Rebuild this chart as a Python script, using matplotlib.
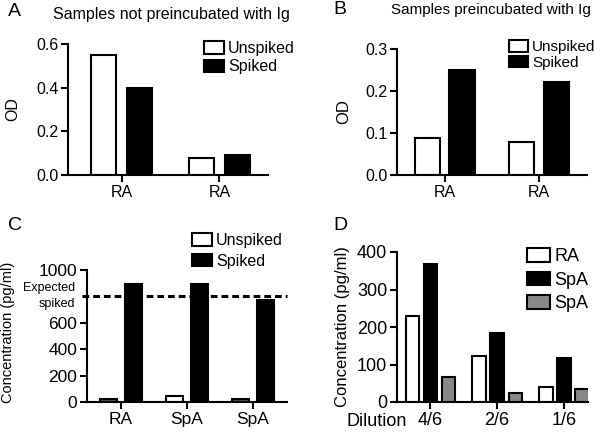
#!/usr/bin/env python3

import matplotlib
matplotlib.use('Agg')
import matplotlib.pyplot as plt
from matplotlib.patches import Patch

plt.rcParams['font.family'] = ['Liberation Sans', 'DejaVu Sans']

# panel A: samples not preincubated with Ig
a_labels = ['RA', 'RA']
a_unspiked = [0.55, 0.08]
a_spiked = [0.40, 0.09]

# panel B: samples preincubated with Ig
b_labels = ['RA', 'RA']
b_unspiked = [0.087, 0.079]
b_spiked = [0.250, 0.222]

# panel C: concentration
c_labels = ['RA', 'SpA', 'SpA']
c_unspiked = [22, 42, 22]
c_spiked = [897, 892, 771]
c_expected = 800

# panel D: dilution series
d_labels = ['4/6', '2/6', '1/6']
d_series = ['RA', 'SpA', 'SpA']
d_ra = [230, 124, 39]
d_spa1 = [368, 184, 118]
d_spa2 = [67, 25, 34]

LW = 1.5
W, H = 600, 434


def box(l, r, t, b):
  return [l / W, 1 - b / H, (r - l) / W, (b - t) / H]


def style(ax, fs=12):
  for s in ['top', 'right']:
    ax.spines[s].set_visible(False)
  for s in ['left', 'bottom']:
    ax.spines[s].set_linewidth(LW)
  ax.tick_params(direction='out', length=5, width=LW, labelsize=fs, pad=2)


def legend(ax, labels, colors, x, y, fs, spacing):
  handles = [Patch(facecolor=c, edgecolor='black', linewidth=LW) for c in colors]
  ax.legend(handles, labels, loc='upper left', bbox_to_anchor=(x / W, 1 - y / H),
            bbox_transform=ax.figure.transFigure, frameon=False, fontsize=fs,
            borderpad=0, borderaxespad=0, handlelength=1.25, handleheight=0.8,
            handletextpad=0.25, labelspacing=spacing)


fig = plt.figure(figsize=(6, 4.34), dpi=100)

# A
ax = fig.add_axes(box(68, 268, 44, 175))
x = range(len(a_labels))
ax.bar([i - 0.184 for i in x], a_unspiked, 0.255, color='white', edgecolor='black', linewidth=LW)
ax.bar([i + 0.184 for i in x], a_spiked, 0.255, color='black', edgecolor='black', linewidth=LW)
ax.set_xlim(-0.546, 1.495)
ax.set_ylim(0, 0.6)
ax.set_yticks([0, 0.2, 0.4, 0.6])
ax.set_yticklabels(['0.0', '0.2', '0.4', '0.6'])
ax.set_xticks(list(x))
ax.set_xticklabels(a_labels)
ax.set_ylabel('OD', fontsize=11.5)
ax.yaxis.set_label_coords(-0.24, 0.5)
style(ax, 11.5)
legend(ax, ['Unspiked', 'Spiked'], ['white', 'black'], 204, 41, 11.5, 0.2)

# B
ax = fig.add_axes(box(397, 587, 49, 175))
x = range(len(b_labels))
ax.bar([i - 0.185 for i in x], b_unspiked, 0.265, color='white', edgecolor='black', linewidth=LW)
ax.bar([i + 0.185 for i in x], b_spiked, 0.265, color='black', edgecolor='black', linewidth=LW)
ax.set_xlim(-0.503, 1.508)
ax.set_ylim(0, 0.3)
ax.set_yticks([0, 0.1, 0.2, 0.3])
ax.set_yticklabels(['0.0', '0.1', '0.2', '0.3'])
ax.set_xticks(list(x))
ax.set_xticklabels(b_labels)
ax.set_ylabel('OD', fontsize=12)
ax.yaxis.set_label_coords(-0.24, 0.5)
style(ax, 11.5)
legend(ax, ['Unspiked', 'Spiked'], ['white', 'black'], 509, 40, 11, 0.1)

# C
ax = fig.add_axes(box(87, 287, 270, 402))
x = range(len(c_labels))
c_fill = ['#555555', 'white', '#555555']
ax.bar([i - 0.186 for i in x], c_unspiked, 0.265, color=c_fill, edgecolor='black', linewidth=LW)
ax.bar([i + 0.186 for i in x], c_spiked, 0.265, color='black', edgecolor='black', linewidth=LW)
ax.hlines(c_expected, -0.025, 1, transform=ax.get_yaxis_transform(), color='black',
          linestyle=(0, (2.2, 1.3)), linewidth=2.2, clip_on=False)
ax.set_xlim(-0.515, 2.515)
ax.set_ylim(0, 1000)
ax.set_yticks([0, 200, 400, 600, 1000])
ax.set_xticks(list(x))
ax.set_xticklabels(c_labels, fontsize=12.5)
ax.set_ylabel('Concentration (pg/ml)', fontsize=10.5)
ax.yaxis.set_label_coords(-0.36, 0.53)
style(ax, 12.5)
ax.text(-0.06, c_expected, 'Expected\nspiked', transform=ax.get_yaxis_transform(),
        ha='right', va='center', multialignment='right', fontsize=9, linespacing=1.45)
legend(ax, ['Unspiked', 'Spiked'], ['white', 'black'], 192, 233, 11.5, 0.35)

# D
ax = fig.add_axes(box(397, 588, 252, 402))
x = range(len(d_labels))
ax.bar([i - 0.27 for i in x], d_ra, 0.2, color='white', edgecolor='black', linewidth=LW)
ax.bar(list(x), d_spa1, 0.2, color='black', edgecolor='black', linewidth=LW)
ax.bar([i + 0.27 for i in x], d_spa2, 0.2, color='#888888', edgecolor='black', linewidth=LW)
ax.set_xlim(-0.5, 2.36)
ax.set_ylim(0, 400)
ax.set_yticks([0, 100, 200, 300, 400])
ax.set_xticks(list(x))
ax.set_xticklabels(d_labels, fontsize=13)
ax.set_ylabel('Concentration (pg/ml)', fontsize=12)
ax.yaxis.set_label_coords(-0.245, 0.5)
style(ax, 13)
ax.text(-0.8, -0.13, 'Dilution', transform=ax.get_xaxis_transform(), ha='center',
        va='center', fontsize=13)
legend(ax, d_series, ['white', 'black', '#888888'], 527, 248, 13, 0.35)

# titles and panel letters
fig.text(53 / W, 1 - 14 / H, 'Samples not preincubated with Ig', fontsize=11.5, va='center')
fig.text(391 / W, 1 - 10 / H, 'Samples preincubated with Ig', fontsize=11, va='center')
for lab, px, py in [('A', 8, 11), ('B', 333, 10), ('C', 8, 225), ('D', 333, 225)]:
  fig.text(px / W, 1 - py / H, lab, fontsize=14, va='center')

fig.savefig('out.png', dpi=100)
